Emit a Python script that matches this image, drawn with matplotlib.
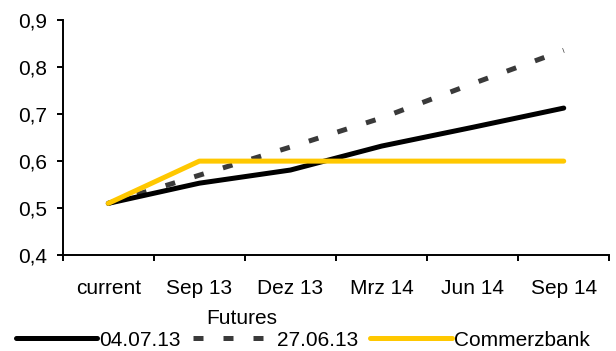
import matplotlib.pyplot as plt
from matplotlib.lines import Line2D

plt.rcParams['font.family'] = ['Liberation Sans', 'DejaVu Sans']
plt.rcParams['lines.scale_dashes'] = False

categories = ['current', 'Sep 13', 'Dez 13', 'Mrz 14', 'Jun 14', 'Sep 14']
futures_0407 = [0.51, 0.553, 0.581, 0.632, 0.672, 0.713]
futures_2706 = [0.51, 0.57, 0.63, 0.692, 0.765, 0.836]
commerzbank = [0.51, 0.60, 0.60, 0.60, 0.60, 0.60]
yticks = [0.4, 0.5, 0.6, 0.7, 0.8, 0.9]
ytick_labels = ['0,4', '0,5', '0,6', '0,7', '0,8', '0,9']

LW = 3.6
DASH = (7.2, 14.4)
YELLOW = '#FFC800'
GREY = '#3a3a3a'

fig = plt.figure(figsize=(6.16, 3.51), dpi=100)
ax = fig.add_axes([0.1018, 0.2735, 0.8873, 0.6687])

x = list(range(len(categories)))
ax.plot(x, futures_0407, color='black', lw=LW, solid_capstyle='round',
        solid_joinstyle='round', zorder=3)
ax.plot(x, futures_2706, color=GREY, lw=LW, dashes=DASH, zorder=2)
ax.plot(x, commerzbank, color=YELLOW, lw=LW, solid_capstyle='round',
        solid_joinstyle='round', zorder=4)

ax.set_ylim(0.4, 0.9)
ax.set_xlim(-0.5, len(categories) - 0.5)
ax.set_yticks(yticks)
ax.set_yticklabels(ytick_labels, fontsize=15)

# boundaries get the tick marks, category centres get the labels
ax.set_xticks([i - 0.5 for i in range(len(categories) + 1)])
ax.set_xticklabels([])
ax.set_xticks(x, minor=True)
ax.set_xticklabels(categories, minor=True, fontsize=15)
ax.tick_params(axis='x', which='minor', length=0, pad=17)
ax.tick_params(axis='x', which='major', length=4.5, width=1.4, direction='out')
ax.tick_params(axis='y', length=4.5, width=1.4, direction='out', pad=7)

for side in ['top', 'right']:
    ax.spines[side].set_visible(False)
for side in ['left', 'bottom']:
    ax.spines[side].set_linewidth(1.4)

fig.text(242 / 616, 1 - 318 / 351, 'Futures', fontsize=15, ha='center', va='center')

handles = [
    Line2D([], [], color='black', lw=LW, solid_capstyle='round'),
    Line2D([], [], color=GREY, lw=LW, dashes=DASH),
    Line2D([], [], color=YELLOW, lw=LW, solid_capstyle='round'),
]
fig.legend(handles, ['04.07.13', '27.06.13', 'Commerzbank'], ncol=3,
           loc='center left', bbox_to_anchor=(16 / 616, 1 - 340 / 351),
           frameon=False, fontsize=15, handlelength=3.9, handletextpad=0.1,
           columnspacing=0.6, borderpad=0, borderaxespad=0)

fig.savefig('out.png', dpi=100)
